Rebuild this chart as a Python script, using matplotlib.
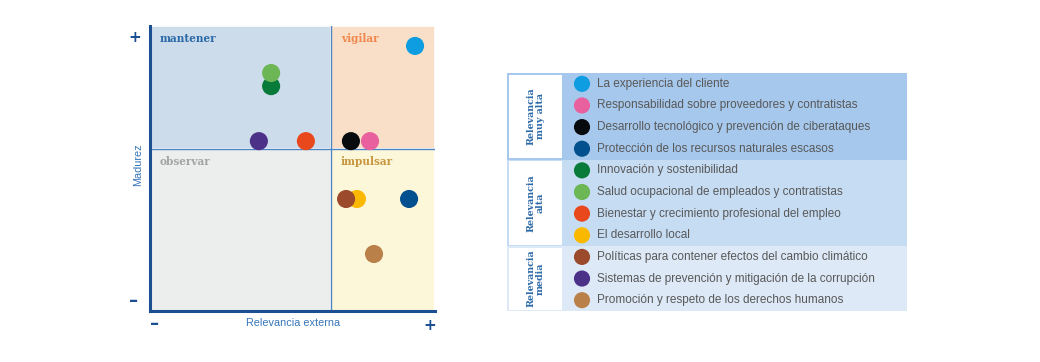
import matplotlib
matplotlib.use("Agg")
import matplotlib.pyplot as plt
from matplotlib.patches import Rectangle

# materiality data (x = relevancia externa, y = madurez, 0..10)
topics = [
    "La experiencia del cliente",
    "Responsabilidad sobre proveedores y contratistas",
    "Desarrollo tecnológico y prevención de ciberataques",
    "Protección de los recursos naturales escasos",
    "Innovación y sostenibilidad",
    "Salud ocupacional de empleados y contratistas",
    "Bienestar y crecimiento profesional del empleo",
    "El desarrollo local",
    "Políticas para contener efectos del cambio climático",
    "Sistemas de prevención y mitigación de la corrupción",
    "Promoción y respeto de los derechos humanos",
]
relevancia = [9.30, 7.72, 7.05, 9.09, 4.25, 4.25, 5.47, 7.26, 6.88, 3.82, 7.86]
madurez = [9.30, 5.96, 5.96, 3.93, 7.89, 8.35, 5.96, 3.93, 3.93, 5.96, 2.00]
colors = ["#0e9de0", "#e9609f", "#070b0d", "#03508f", "#087a3a", "#6cb656",
          "#e9481d", "#fbb800", "#9b4a2b", "#4c3189", "#ba8049"]

groups = ["Relevancia\nmuy alta", "Relevancia\nalta", "Relevancia\nmedia"]
group_sizes = [4, 4, 3]
group_bg = ["#a6c8ec", "#c6dcf3", "#dde9f6"]

quadrants = ["mantener", "vigilar", "observar", "impulsar"]
quad_bg = ["#cddcea", "#fadfc8", "#eceeee", "#fdf7da"]
quad_fg = ["#2d6aa8", "#f0884e", "#a4a4a4", "#c99640"]

split_x, split_y = 6.35, 5.68
W, H = 1040, 362
navy = "#1b4f92"
label_blue = "#3575b8"

fig = plt.figure(figsize=(W / 100, H / 100), dpi=100)
fig.patch.set_facecolor("white")

# ---- matrix ----
ax = fig.add_axes([150 / W, (H - 311) / H, 285 / W, 285 / H])
ax.set_xlim(0, 10)
ax.set_ylim(0, 10)
spans = [((0, split_x), (split_y, 10)), ((split_x, 10), (split_y, 10)),
         ((0, split_x), (0, split_y)), ((split_x, 10), (0, split_y))]
for (xs, ys), bg in zip(spans, quad_bg):
    ax.add_patch(Rectangle((xs[0], ys[0]), xs[1] - xs[0], ys[1] - ys[0],
                           facecolor=bg, edgecolor="white", lw=1.2, zorder=0))
ax.axvline(split_x, color="#4f86c2", lw=1.0, zorder=1)
ax.axhline(split_y, color="#4f86c2", lw=1.0, zorder=1)

for name, (xs, ys), fg in zip(quadrants, spans, quad_fg):
    ax.text(xs[0] + 0.35, ys[1] - 0.45, name, color=fg, fontsize=7.6,
            fontweight="bold", family="DejaVu Serif", ha="left", va="center")

ax.scatter(relevancia, madurez, s=170, c=colors, edgecolors="none", zorder=3)

for side in ["top", "right"]:
    ax.spines[side].set_visible(False)
for side in ["left", "bottom"]:
    ax.spines[side].set_color(navy)
    ax.spines[side].set_linewidth(2.2)
ax.set_xticks([])
ax.set_yticks([])

fig.text(135 / W, 1 - 37 / H, "+", color=navy, fontsize=11, fontweight="bold",
         ha="center", va="center")
fig.text(134 / W, 1 - 301 / H, "–", color=navy, fontsize=13, fontweight="bold",
         ha="center", va="center")
fig.text(155 / W, 1 - 324 / H, "–", color=navy, fontsize=13, fontweight="bold",
         ha="center", va="center")
fig.text(430 / W, 1 - 325 / H, "+", color=navy, fontsize=11, fontweight="bold",
         ha="center", va="center")
fig.text(138 / W, 1 - 165 / H, "Madurez", color=label_blue, fontsize=7.8,
         family="Liberation Sans", rotation=90, ha="center", va="center")
fig.text(293 / W, 1 - 323 / H, "Relevancia externa", color=label_blue, fontsize=7.8,
         family="Liberation Sans", ha="center", va="center")

# ---- legend table ----
lx0, ly0, lx1, ly1 = 507, 73, 907, 311
lg = fig.add_axes([lx0 / W, (H - ly1) / H, (lx1 - lx0) / W, (ly1 - ly0) / H])
lg.set_xlim(0, lx1 - lx0)
lg.set_ylim(ly1 - ly0, 0)
lg.axis("off")

row_h = (ly1 - ly0) / len(topics)
row = 0
for grp, n, bg in zip(groups, group_sizes, group_bg):
    top = row * row_h
    lg.add_patch(Rectangle((0, top), lx1 - lx0, n * row_h, facecolor=bg,
                           edgecolor="none", zorder=0))
    lg.add_patch(Rectangle((2, top + 1.5), 53, n * row_h - 3, facecolor="white",
                           edgecolor="none", zorder=1))
    lg.text(28.5, top + n * row_h / 2, grp, rotation=90, ha="center", va="center",
            color="#2d6aa8", fontsize=6.8, fontweight="bold", family="DejaVu Serif",
            linespacing=1.05, zorder=2)
    row += n

for i, (name, col) in enumerate(zip(topics, colors)):
    yc = (i + 0.5) * row_h
    lg.scatter([75], [yc], s=135, c=[col], edgecolors="none", zorder=3)
    lg.text(90, yc, name, ha="left", va="center", color="#585858", fontsize=8.5,
            family="Liberation Sans", zorder=3)

fig.savefig("out.png", dpi=100)
